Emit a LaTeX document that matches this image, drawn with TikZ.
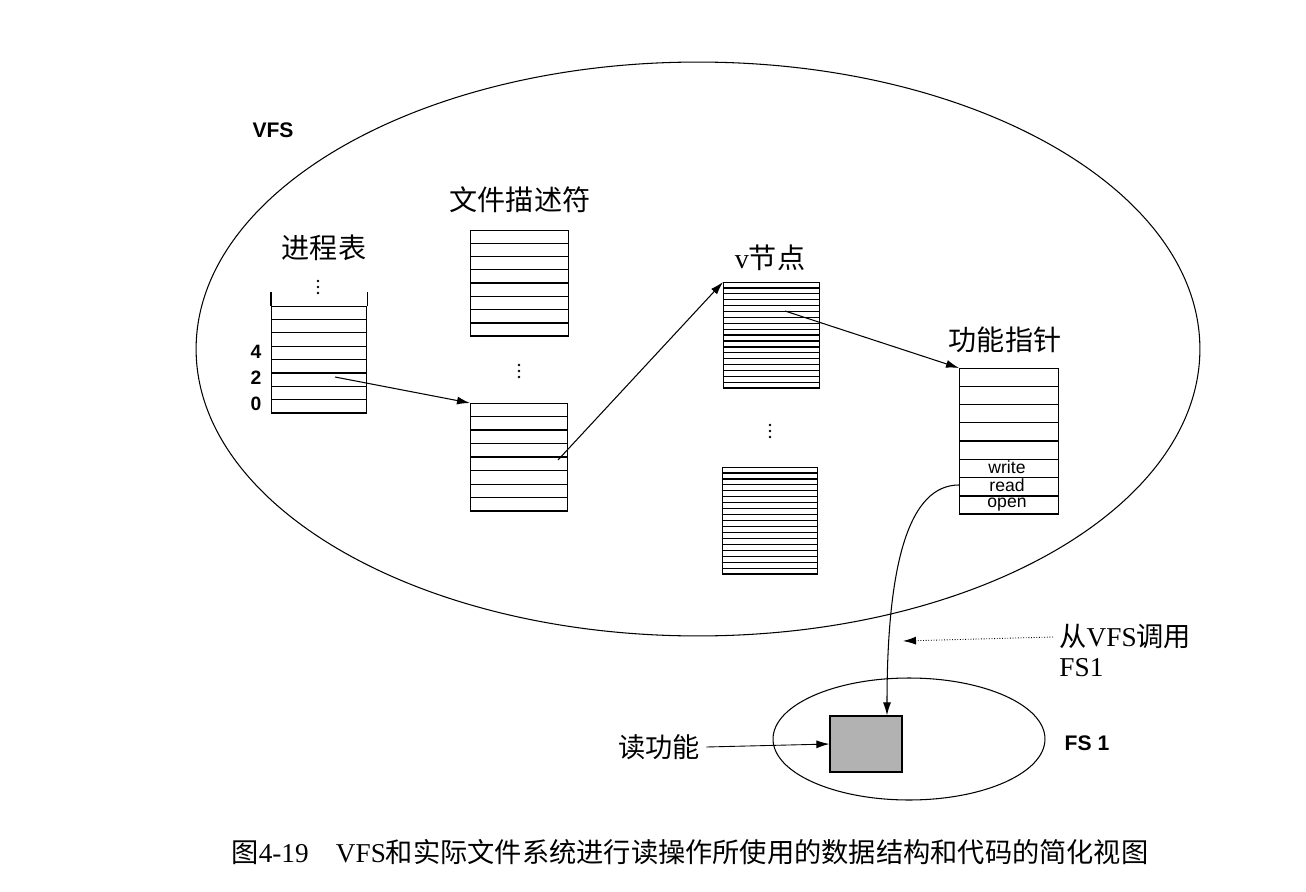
\documentclass[tikz,border=0pt]{standalone}
\usepackage{fontspec}
\setmainfont{Liberation Serif}
\setsansfont{Liberation Sans}
\newfontfamily\cjk{Noto Sans CJK SC}
\usetikzlibrary{arrows,arrows.meta,positioning,shapes,calc}

% table rows: node name, number of rows
\newcommand{\tblrows}[2]{%
  \foreach \i in {1,...,#2}
    \draw ($(#1.north west)!{\i/#2}!(#1.south west)$) -- ($(#1.north east)!{\i/#2}!(#1.south east)$);
}
% three vertical dots at a coordinate
\newcommand{\vdotsat}[1]{%
  \foreach \d in {-6,0,6}
    \fill (#1) ++(0,\d) circle (1.3);
}

\begin{document}
\begin{tikzpicture}[x=0.02cm,y=-0.02cm,line width=0.7pt,
    ptr/.style={-{Latex[length=2.6mm,width=1.6mm]},line width=0.6pt},
    tbl/.style={draw,inner sep=0,anchor=north west},
    ttl/.style={font=\cjk\fontsize{16}{18}\selectfont},
    num/.style={font=\sffamily\bfseries\fontsize{11}{12}\selectfont,inner sep=0},
    fn/.style={font=\sffamily\fontsize{10}{10}\selectfont,inner sep=0},
    oval/.style={draw,ellipse,inner sep=0,line width=0.6pt}]
    \useasboundingbox (0,0) rectangle (1306,892);
    % file systems
    \node[oval,minimum width=20.08cm,minimum height=11.48cm] (vfs) at (698,349) {};
    \node[oval,minimum width=5.44cm,minimum height=2.44cm] (fs) at (909,739) {};
    \node[font=\sffamily\bfseries\fontsize{12}{14}\selectfont] (vfslbl) at (273,130) {VFS};
    \node[font=\sffamily\bfseries\fontsize{12}{14}\selectfont] (fslbl) at (1087,743) {FS 1};

    % process table
    \node[ttl] (ptt) at (324,248) {进程表};
    \node[tbl,minimum width=1.9cm,minimum height=2.12cm] (pt) at (271,306) {};
    \tblrows{pt}{8}
    \draw (pt.north west) -- ++(0,-14);
    \draw (pt.north east) -- ++(0,-14);
    \coordinate (ptd) at (318,287);
    \vdotsat{ptd}
    \node[num] (n4) at (256,352) {4};
    \node[num] (n2) at (256,378) {2};
    \node[num] (n0) at (256,404) {0};
    \coordinate (ptp) at (335,377);

    % file descriptors
    \node[ttl] (fdt) at (520,200) {文件描述符};
    \node[tbl,minimum width=1.96cm,minimum height=2.1cm] (fd1) at (470,230) {};
    \tblrows{fd1}{8}
    \coordinate (fdd) at (519,371);
    \vdotsat{fdd}
    \node[tbl,minimum width=1.94cm,minimum height=2.14cm] (fd2) at (470,403) {};
    \tblrows{fd2}{8}
    \coordinate (fdp) at (558,460);

    % v-nodes
    \node[ttl] (vnt) at (770,258) {\rmfamily v\cjk 节点};
    \node[tbl,minimum width=1.92cm,minimum height=2.1cm] (vn1) at (723,282) {};
    \tblrows{vn1}{18}
    \coordinate (vnd) at (770,431);
    \vdotsat{vnd}
    \node[tbl,minimum width=1.9cm,minimum height=2.12cm] (vn2) at (722,467) {};
    \tblrows{vn2}{18}
    \coordinate (vnp) at (785,311);

    % function pointers
    \node[ttl] (fpt) at (1005,340) {功能指针};
    \node[tbl,minimum width=1.98cm,minimum height=2.9cm] (fp) at (959,368) {};
    \tblrows{fp}{8}
    \node[fn] (wr) at (1007,467) {write};
    \node[fn] (rd) at (1007,485) {read};
    \node[fn] (op) at (1007,505) {open};

    % read function
    \node[draw,fill=gray!60,inner sep=0,minimum width=1.44cm,minimum height=1.12cm] (rfn) at (866,744) {};
    \node[ttl,font=\cjk\fontsize{15.5}{18}\selectfont] (rfl) at (659,747) {读功能};
    \node[anchor=west,font=\fontsize{15.5}{18}\selectfont] (call) at (1053,637) {{\cjk 从}VFS{\cjk 调用}};
    \node[anchor=west,font=\fontsize{15.5}{18}\selectfont] (callb) at (1053,668) {FS1};
    \coordinate (hit) at (903,641);

    % pointers
    \draw[ptr] (ptp) -- (fd2.north west);
    \draw[ptr] (fdp) -- (vn1.north west);
    \draw[ptr] (vnp) -- (fp.north west);
    \draw[ptr] (fp.west |- rd) .. controls (910,485) and (887,560) .. ($(rfn.north)+(21,0)$);
    \draw[ptr,line width=0.5pt,densely dotted] (call.west) -- (hit);
    \draw[ptr,line width=0.5pt] (rfl.east) -- (rfn.west);

    % caption
    \node[font=\fontsize{15.5}{18}\selectfont] (cap) at (690,852) {{\cjk 图}4-19\quad VFS{\cjk 和实际文件系统进行读操作所使用的数据结构和代码的简化视图}};
\end{tikzpicture}
\end{document}
